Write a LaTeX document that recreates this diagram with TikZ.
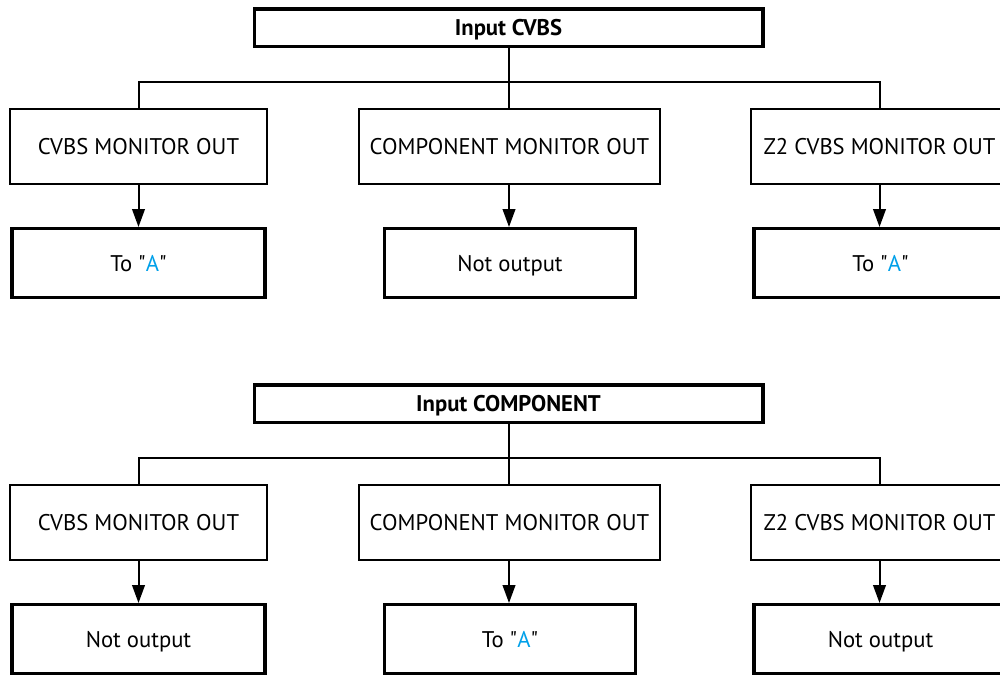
\documentclass[tikz,border=0pt]{standalone}
\usepackage{fontspec}
\setmainfont{PT Sans}[Ligatures=TeXOff]
\usetikzlibrary{arrows.meta}
\definecolor{ablue}{RGB}{0,160,233}
\tikzset{
  txt/.style={inner sep=0pt, text height=14pt, text depth=2pt, font=\fontsize{17}{20}\selectfont},
  thinbox/.style={txt, draw=black, line width=1.1pt, minimum height=56.25pt},
  thickbox/.style={txt, draw=black, line width=2.6pt, minimum height=51.4pt, minimum width=190pt},
  headbox/.style={txt, draw=black, line width=2.6pt, minimum height=28.1pt, minimum width=381.4pt, font=\bfseries\fontsize{17}{20}\selectfont},
  conn/.style={draw=black, line width=1.5pt},
  arr/.style={conn, -{Triangle[length=13.5pt,width=9.5pt]}}
}
\newcommand{\toA}{To "\textcolor{ablue}{A}"}
\begin{document}
\begin{tikzpicture}[x=0.75pt,y=-0.75pt]
\useasboundingbox (0,0) rectangle (1000,678);
\clip (0,0) rectangle (1000,678);
% ---------- diagram 1 ----------
\node[headbox] (t1) at (508.5,27.5) {Input CVBS};
\coordinate (b1) at (509,82);
\node[thinbox, minimum width=192.75pt] (a1) at (138.5,146.5) {CVBS MONITOR OUT};
\node[thinbox, minimum width=225.75pt] (a2) at (509.5,146.5) {COMPONENT MONITOR OUT};
\node[thinbox, minimum width=192.75pt] (a3) at (879.5,146.5) {Z2 CVBS MONITOR OUT};
\node[thickbox] (o1) at (138.5,263) {\toA};
\node[thickbox, minimum width=188pt] (o2) at (510,263) {Not output};
\node[thickbox] (o3) at (880.5,263) {\toA};
\draw[conn] (t1.south) -- (t1.south |- b1);
\draw[conn] (a1.north) -- (a1.north |- b1) -- (a3.north |- b1) -- (a3.north);
\draw[conn] (b1) -- (b1 |- a2.north);
\draw[arr] (a1.south) -- (o1.north);
\draw[arr] (a2.south -| b1) -- (b1 |- o2.north);
\draw[arr] (a3.south) -- (a3.south |- o3.north);
% ---------- diagram 2 ----------
\node[headbox] (t2) at (508.5,403.5) {Input COMPONENT};
\coordinate (b2) at (509,458);
\node[thinbox, minimum width=192.75pt] (c1) at (138.5,522.5) {CVBS MONITOR OUT};
\node[thinbox, minimum width=225.75pt] (c2) at (509.5,522.5) {COMPONENT MONITOR OUT};
\node[thinbox, minimum width=192.75pt] (c3) at (879.5,522.5) {Z2 CVBS MONITOR OUT};
\node[thickbox] (p1) at (138.5,639) {Not output};
\node[thickbox, minimum width=188pt] (p2) at (510,639) {\toA};
\node[thickbox] (p3) at (880.5,639) {Not output};
\draw[conn] (t2.south) -- (t2.south |- b2);
\draw[conn] (c1.north) -- (c1.north |- b2) -- (c3.north |- b2) -- (c3.north);
\draw[conn] (b2) -- (b2 |- c2.north);
\draw[arr] (c1.south) -- (p1.north);
\draw[arr] (c2.south -| b2) -- (b2 |- p2.north);
\draw[arr] (c3.south) -- (c3.south |- p3.north);
\end{tikzpicture}
\end{document}
